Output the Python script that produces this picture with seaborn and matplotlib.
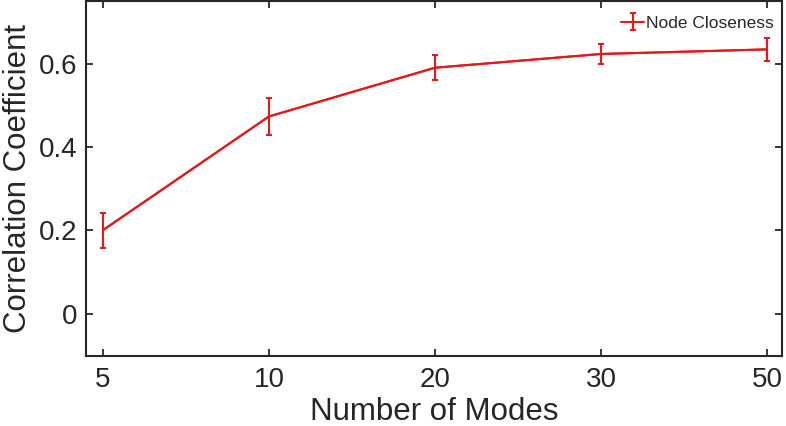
import numpy as np
import pandas as pd
import matplotlib
matplotlib.use('Agg')
import matplotlib.pyplot as plt
import seaborn as sns

modes = ['5', '10', '20', '30', '50']
corr = [0.200, 0.473, 0.590, 0.623, 0.634]
corr_err = [0.042, 0.045, 0.030, 0.025, 0.028]

sns.set_style('ticks')
plt.rcParams['font.family'] = ['Liberation Sans', 'DejaVu Sans']

red = '#e31a1c'
dark = '#262626'

df = pd.DataFrame({'mode': modes, 'pos': np.arange(len(modes)), 'corr': corr})

fig, ax = plt.subplots(figsize=(7.86, 4.26), dpi=100)
sns.lineplot(data=df, x='pos', y='corr', color=red, linewidth=1.5, ax=ax)
eb = ax.errorbar(df['pos'], df['corr'], yerr=corr_err, fmt='-',
                 color=red, ecolor=red, linewidth=1.5, elinewidth=1.5,
                 capsize=2, capthick=1.5, label='Node Closeness')

ax.set_xticks(df['pos'])
ax.set_xticklabels(modes)
ax.set_xlim(-0.102, 4.09)
ax.set_ylim(-0.102, 0.749)
ax.set_yticks([0, 0.2, 0.4, 0.6])
ax.set_yticklabels(['0', '0.2', '0.4', '0.6'])
ax.tick_params(direction='in', top=True, right=True, labelsize=20,
               colors=dark, length=5, width=1.3, pad=6)
ax.tick_params(axis='x', pad=8)
for s in ax.spines.values():
    s.set_color(dark)
    s.set_linewidth(1.5)
ax.set_xlabel('Number of Modes', fontsize=22.5, color=dark, labelpad=3)
ax.set_ylabel('Correlation Coefficient', fontsize=22.5, color=dark, labelpad=4)

ax.legend(handles=[eb], loc='upper right', bbox_to_anchor=(1.0, 0.985),
          frameon=False, fontsize=12.5, handlelength=1.3, handletextpad=0.1,
          borderaxespad=0.2, borderpad=0.3)

plt.subplots_adjust(left=0.1094, right=0.9949, top=0.9965, bottom=0.1643)
plt.savefig('out.png', dpi=100)
